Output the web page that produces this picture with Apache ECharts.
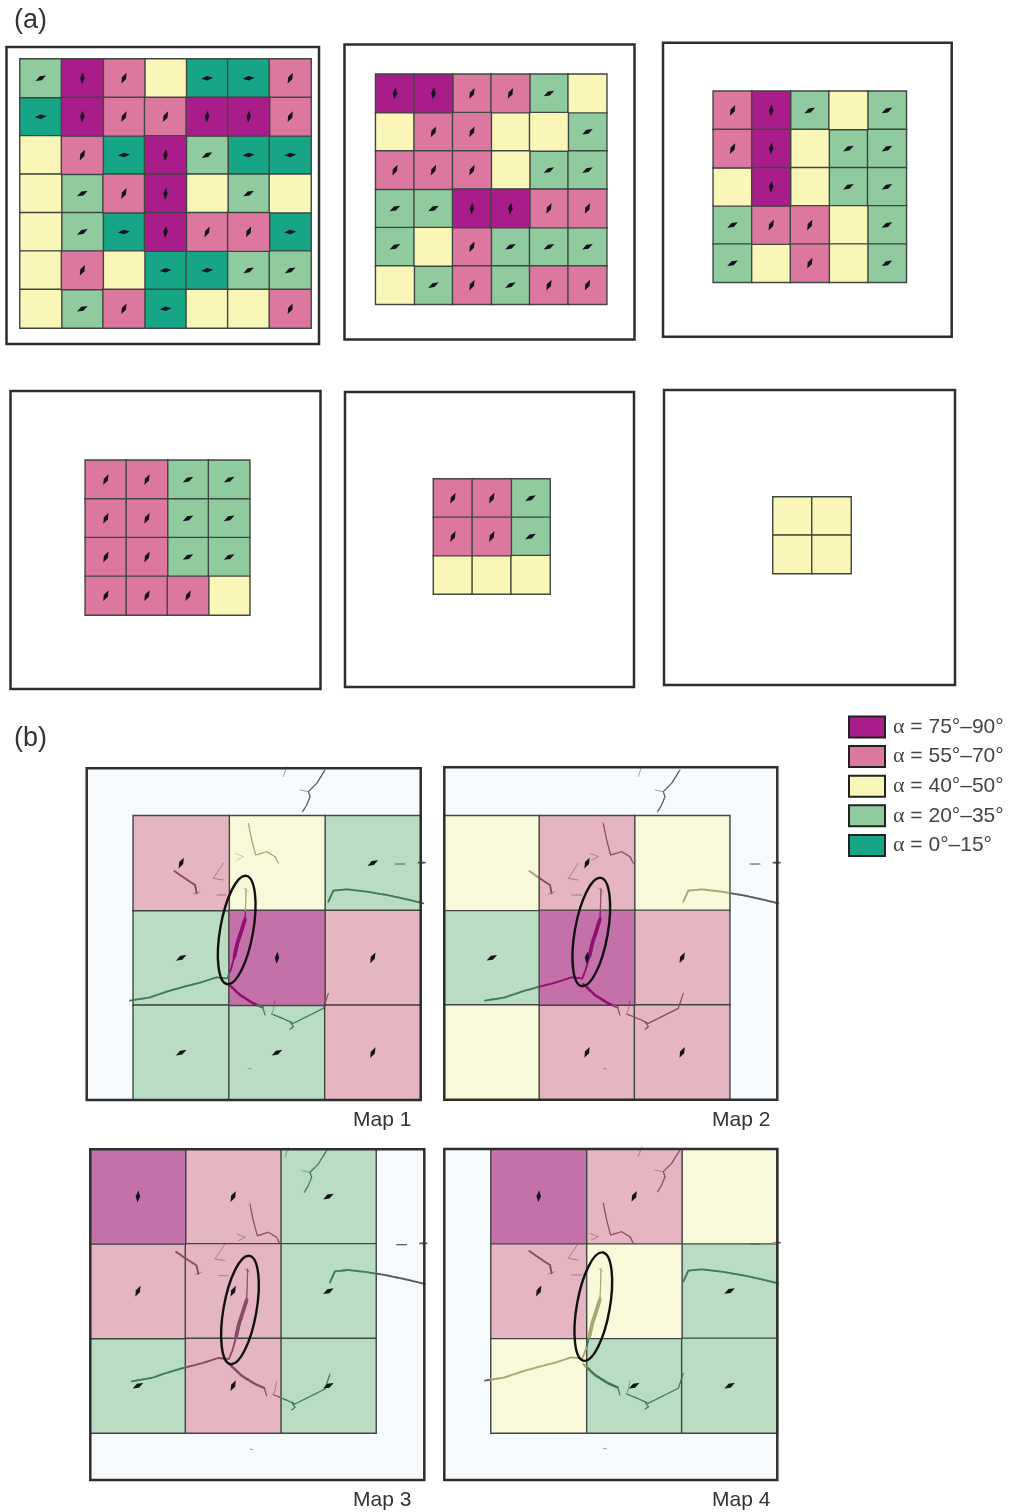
<!DOCTYPE html>
<html>
<head>
<meta charset="utf-8">
<style>html,body{margin:0;padding:0;background:#fff}#c{width:1012px;height:1512px}</style>
<script src="https://cdn.jsdelivr.net/npm/echarts@6/dist/echarts.min.js"></script>
</head>
<body>
<div id="c"></div>
<script>
// ---- DATA ----
// Class index: 0 = 0–15°, 1 = 20–35°, 2 = 40–50°, 3 = 55–70°, 4 = 75–90°
const classLabels = ['α = 0°–15°','α = 20°–35°','α = 40°–50°','α = 55°–70°','α = 75°–90°'];
const classAngles = [5, 28, null, 64, 85];   // representative dip of the tick mark in a cell

const cellsA1 = [
  [1,4,3,2,0,0,3],
  [0,4,3,3,4,4,3],
  [2,3,0,4,1,0,0],
  [2,1,3,4,2,1,2],
  [2,1,0,4,3,3,0],
  [2,3,2,0,0,1,1],
  [2,1,3,0,2,2,3]
];
const cellsA2 = [
  [4,4,3,3,1,2],
  [2,3,3,2,2,1],
  [3,3,3,2,1,1],
  [1,1,4,4,3,3],
  [1,2,3,1,1,1],
  [2,1,3,1,3,3]
];
const cellsA3 = [
  [3,4,1,2,1],
  [3,4,2,1,1],
  [2,4,2,1,1],
  [1,3,3,2,1],
  [1,2,3,2,1]
];
const cellsA4 = [
  [3,3,1,1],
  [3,3,1,1],
  [3,3,1,1],
  [3,3,3,2]
];
const cellsA5 = [
  [3,3,1],
  [3,3,1],
  [2,2,2]
];
const cellsA6 = [
  [2,2],
  [2,2]
];
const cellsMap1 = [[3,2,1],[1,4,3],[1,1,3]];
const cellsMap2 = [[2,3,2],[1,4,3],[2,3,3]];
const cellsMap3 = [[4,3,1],[3,3,1],[1,3,1]];
const cellsMap4 = [[4,3,2],[3,2,1],[2,1,1]];

// Fracture traces in map units: [weight, x, y, x, y, ...]
const fractures = [
  [4, 495,478, 485,510, 472,550, 463,590],
  [2, 463,590, 452,630, 442,655],
  [1, 498,385, 497,430, 495,478],
  [2, 150,722, 210,712, 260,695, 305,682, 360,668, 410,652, 440,655],
  [3, 445,672, 480,705, 520,730, 548,742],
  [1, 548,742, 555,765],
  [1, 575,762, 600,772, 630,785, 640,790, 700,760, 730,745, 745,700],
  [1, 630,785, 640,800, 630,808],
  [0, 585,720, 580,750, 575,762],
  [1, 735,30, 710,70, 685,95, 690,110, 680,135, 668,155],
  [0, 660,90, 685,95],
  [0, 620,20, 610,50],
  [1, 505,190, 515,240, 527,285, 560,275, 585,290, 595,310],
  [0, 465,280, 490,290, 470,300],
  [0, 430,310, 410,340, 400,355, 430,360],
  [0, 410,405, 440,405],
  [0, 490,385, 505,395],
  [2, 283,333, 310,352, 345,375, 350,400],
  [0, 340,402, 360,395],
  [2, 745,425, 760,392, 800,388, 860,395, 920,405, 980,418, 1030,430],
  [1, 945,312, 975,312],
  [2, 1015,308, 1035,308],
  [0, 505,925, 515,927]
];
// Ellipse centre of the circled zone per map, in map units
const ellipseCentres = [[470,510],[469,516],[475,508],[475,500]];

// ---- LAYOUT & STYLE ----
const classColors = ['#16a585','#8fcb9f','#faf6b8','#dc77a0','#a81d8a'];
const paleColors  = ['#9fd6c8','#b9dcc2','#f8f8da','#e5b5c2','#c470a9'];
const traceColors = ['#20604f','#3c7a55','#a5a670','#8c4a66','#8f0f72'];
const traceWidths = [0.8,1.2,1.8,2.4,3.6];
const boxes = [
  {f:[6.5,47,312.5,297],   c:[20,59,291,269],     cells:cellsA1},
  {f:[344.5,44.5,290,295], c:[375.7,74.3,231,230],cells:cellsA2},
  {f:[663,42.7,288.7,294], c:[713.3,91.3,193,191],cells:cellsA3},
  {f:[10.5,391,310,298],   c:[85.3,460.3,164.4,154.7],cells:cellsA4},
  {f:[345,392,289,295],    c:[433.5,479,116.5,115],cells:cellsA5},
  {f:[664,390,291,295],    c:[773,497,78,76.5],   cells:cellsA6},
  {f:[86.7,768.3,334,331.7],  c:[133.3,815.7,287.4,284.3], cells:cellsMap1, map:0, ux:[20,1022], uy:[25,1020]},
  {f:[444.3,767.3,333,332.4], c:[444.3,815.7,285.4,284],   cells:cellsMap2, map:1, ux:[28,1027], uy:[22,1019]},
  {f:[90.3,1149.3,334,330.7], c:[90.3,1149.3,285.7,283.7], cells:cellsMap3, map:2, ux:[26,1028], uy:[26,1018]},
  {f:[444.3,1149,333,331],    c:[491,1149,286.3,284],      cells:cellsMap4, map:3, ux:[28,1027], uy:[27,1020]}
];
const FONT = '"Liberation Sans", Arial, sans-serif';
const captions = [
  {text:'(a)', left:14, top:7, size:27},
  {text:'(b)', left:14, top:725, size:27},
  {text:'Map 1', left:353, top:1110, size:21},
  {text:'Map 2', left:712, top:1110, size:21},
  {text:'Map 3', left:353, top:1490, size:21},
  {text:'Map 4', left:712, top:1490, size:21}
];

// ---- OPTION ----
const grid = [], xAxis = [], yAxis = [], series = [], graphic = [];
const range = n => Array.from({length:n},(_,i)=>String(i));

boxes.forEach((b,i)=>{
  const isMap = b.map !== undefined;
  const n = b.cells.length;
  const cellIdx = grid.length;
  grid.push({left:b.c[0],top:b.c[1],width:b.c[2],height:b.c[3],show:false,containLabel:false});
  xAxis.push({type:'category',gridIndex:cellIdx,data:range(n),show:false});
  yAxis.push({type:'category',gridIndex:cellIdx,data:range(n),inverse:true,show:false});
  const frameIdx = grid.length;
  grid.push({left:b.f[0],top:b.f[1],width:b.f[2],height:b.f[3],show:true,
    backgroundColor:isMap?'#f6fafd':'#fff',borderWidth:0});
  xAxis.push({type:'value',gridIndex:frameIdx,min:isMap?b.ux[0]:0,max:isMap?b.ux[1]:1,show:false});
  yAxis.push({type:'value',gridIndex:frameIdx,min:isMap?b.uy[0]:0,max:isMap?b.uy[1]:1,inverse:true,show:false});

  const palette = isMap ? paleColors : classColors;
  classLabels.forEach((label,cls)=>{
    const data=[];
    b.cells.forEach((row,r)=>row.forEach((v,c)=>{ if(v===cls) data.push([c,r,v]); }));
    if(!data.length) return;
    series.push({type:'heatmap',name:label,xAxisIndex:cellIdx,yAxisIndex:cellIdx,data,z:2,
      itemStyle:{color:palette[cls],borderColor:'#3f4741',borderWidth:1.4},
      emphasis:{disabled:true},silent:true,animation:false});
  });

  const ticks=[];
  b.cells.forEach((row,r)=>row.forEach((v,c)=>{ if(classAngles[v]!==null) ticks.push([c,r,v]); }));
  if(ticks.length){
    series.push({type:'scatter',name:'ticks'+i,xAxisIndex:cellIdx,yAxisIndex:cellIdx,data:ticks,z:5,
      symbol:'diamond',symbolSize:[4.5,12],
      symbolRotate:(val)=>classAngles[val[2]]-90,
      itemStyle:{color:'#14141c',opacity:1},silent:true,animation:false});
  }

  if(isMap){
    const segs=[];
    fractures.forEach(f=>{
      for(let k=1;k+3<f.length;k+=2) segs.push([f[k],f[k+1],f[k+2],f[k+3],f[0]]);
    });
    const cellAt=(px,py)=>{
      const c=Math.floor((px-b.c[0])/b.c[2]*n), r=Math.floor((py-b.c[1])/b.c[3]*n);
      return (c>=0&&c<n&&r>=0&&r<n)?b.cells[r][c]:-1;
    };
    series.push({type:'custom',name:'fractures'+i,xAxisIndex:frameIdx,yAxisIndex:frameIdx,z:3,
      clip:false,silent:true,animation:false,data:segs,encode:{x:[0,2],y:[1,3]},
      renderItem:(params,api)=>{
        const p=api.coord([api.value(0),api.value(1)]), q=api.coord([api.value(2),api.value(3)]);
        const w=traceWidths[api.value(4)];
        const len=Math.hypot(q[0]-p[0],q[1]-p[1]), steps=Math.max(1,Math.ceil(len/3));
        const children=[];
        for(let s=0;s<steps;s++){
          const a=s/steps,e=(s+1)/steps;
          const x1=p[0]+(q[0]-p[0])*a,y1=p[1]+(q[1]-p[1])*a,x2=p[0]+(q[0]-p[0])*e,y2=p[1]+(q[1]-p[1])*e;
          const cls=cellAt((x1+x2)/2,(y1+y2)/2);
          children.push({type:'line',shape:{x1,y1,x2,y2},
            style:{stroke:cls<0?'#55585a':traceColors[cls],lineWidth:w,lineCap:'round',opacity:w<1?0.6:0.95}});
        }
        return {type:'group',children};
      }});
    series.push({type:'custom',name:'ellipse'+i,xAxisIndex:frameIdx,yAxisIndex:frameIdx,z:4,
      clip:false,silent:true,animation:false,data:[ellipseCentres[b.map]],encode:{x:0,y:1},
      renderItem:(params,api)=>{
        const p=api.coord([api.value(0),api.value(1)]);
        return {type:'ellipse',shape:{cx:p[0],cy:p[1],rx:16.5,ry:55},
          originX:p[0],originY:p[1],rotation:-10*Math.PI/180,
          style:{fill:'none',stroke:'#111',lineWidth:2.4}};
      }});
  }

  graphic.push({type:'rect',silent:true,z:100,
    shape:{x:b.f[0],y:b.f[1],width:b.f[2],height:b.f[3]},
    style:{fill:'none',stroke:'#2e2e2e',lineWidth:2.5}});
});

const option = {
  backgroundColor:'#fff',
  animation:false,
  title:captions.map(c=>({text:c.text,left:c.left,top:c.top,padding:0,
    textStyle:{fontFamily:FONT,fontSize:c.size,fontWeight:'normal',color:'#333'}})),
  legend:{
    left:848,top:715.5,orient:'vertical',padding:0,
    itemWidth:36,itemHeight:21,itemGap:6.6,
    selectedMode:false,icon:'rect',
    data:classLabels.slice().reverse(),
    itemStyle:{borderColor:'#222',borderWidth:2},
    formatter:name=>'{a|α}{b|'+name.slice(1)+'}',
    textStyle:{
      fontFamily:FONT,fontSize:21,color:'#444',lineHeight:21,padding:[0,0,0,3],
      rich:{
        a:{fontFamily:'"Liberation Serif", serif',fontSize:22,color:'#444',lineHeight:21},
        b:{fontFamily:FONT,fontSize:21,color:'#444',lineHeight:21}
      }
    }
  },
  grid,xAxis,yAxis,series,graphic
};
const chart = echarts.init(document.getElementById('c'),null,{renderer:'canvas'});
chart.setOption(option);
</script>
</body>
</html>
